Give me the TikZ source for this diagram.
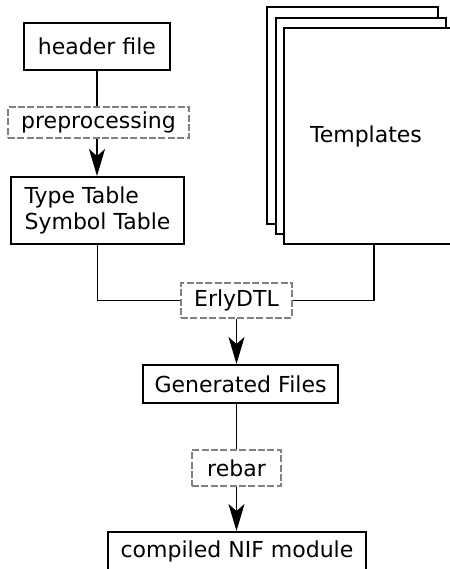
\documentclass[tikz,border=0pt]{standalone}
\usepackage{fontspec}
\setmainfont{DejaVu Sans}
\usetikzlibrary{arrows.meta}
\tikzset{
  box/.style={draw, line width=1pt, inner sep=0pt, align=center},
  procbox/.style={draw=black!50, line width=0.75pt, dash pattern=on 3.5pt off 1.2pt, inner sep=0pt, fill=white},
  sheet/.style={draw, line width=1pt, fill=white},
  link/.style={line width=0.8pt},
  flow/.style={line width=0.8pt, -{Stealth[length=13.5pt, width=8pt, inset=3.5pt]}}
}
\begin{document}
\begin{tikzpicture}[x=0.5pt, y=-0.5pt, font=\fontsize{11}{13}\selectfont]
\useasboundingbox (0,0) rectangle (450,569);
% stack of template sheets
\draw[sheet] (267,7) rectangle (438,224);
\draw[sheet] (276,18) rectangle (446,234);
\node[box, fill=white, minimum width=90pt, minimum height=108pt] (tpl) at (374,136) {\hspace*{-8pt}Templates};
% left column
\node[box, minimum width=73pt, minimum height=23.5pt] (hdr) at (97,46.5) {header file};
\node[procbox, minimum width=90.5pt, minimum height=15.5pt] (prep) at (98.5,122.5) {preprocessing};
\node[box, align=left, minimum width=86.5pt, minimum height=33.5pt] (tab) at (97.5,210.5) {Type Table\\Symbol Table};
% middle column
\node[procbox, minimum width=55.5pt, minimum height=17.5pt] (erly) at (236.5,300.5) {ErlyDTL};
\node[box, minimum width=97.5pt, minimum height=19pt] (gen) at (240.5,384) {Generated Files};
\node[procbox, minimum width=44.5pt, minimum height=18pt] (rebar) at (236.5,468) {rebar};
\node[box, minimum width=129pt, minimum height=19pt] (nif) at (237,551) {compiled NIF module};
% connectors
\draw[link] (hdr.south) -- (hdr.south |- prep.north);
\draw[flow] (hdr.south |- prep.south) -- (hdr.south |- tab.north);
\draw[link] (tab.south) |- (erly.west);
\draw[link] (tpl.south) |- (erly.east);
\draw[flow] (erly.south) -- (erly.south |- gen.north);
\draw[link] (erly.south |- gen.south) -- (rebar.north);
\draw[flow] (rebar.south) -- (rebar.south |- nif.north);
\end{tikzpicture}
\end{document}
